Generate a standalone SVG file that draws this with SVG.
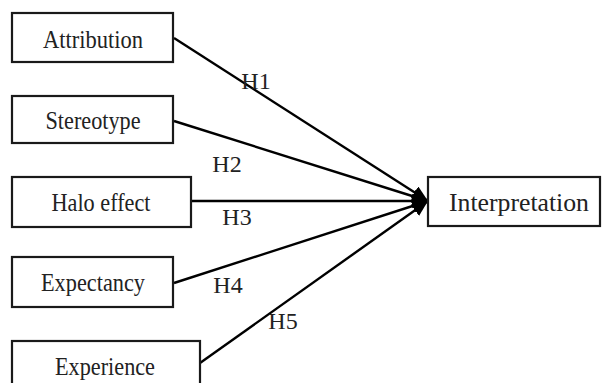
<svg xmlns="http://www.w3.org/2000/svg" width="606" height="383" viewBox="0 0 606 383">
<defs>
<style>
.box{fill:#fff;stroke:#1a1a1a;stroke-width:2.2}
.t{font-family:"Liberation Serif","Times New Roman",serif;font-size:25px;fill:#222;text-anchor:middle}
.lab{font-family:"Liberation Serif","Times New Roman",serif;font-size:24px;fill:#222;text-anchor:middle}
.ln{stroke:#000;stroke-width:2.4;fill:none;marker-end:url(#ah)}
</style>
<marker id="ah" markerUnits="userSpaceOnUse" viewBox="0 0 16 14" refX="16" refY="7" markerWidth="16" markerHeight="14" orient="auto">
<path d="M0,0 L16,7 L0,14 z" fill="#000"/>
</marker>
</defs>
<rect width="606" height="383" fill="#fff"/>
<g id="connectors">
<line class="ln" x1="174" y1="38" x2="428" y2="201"/>
<line class="ln" x1="174" y1="121" x2="428" y2="201"/>
<line class="ln" x1="191" y1="201" x2="428" y2="201"/>
<line class="ln" x1="174" y1="283" x2="428" y2="201"/>
<line class="ln" x1="200" y1="363" x2="428" y2="201"/>
<text class="lab" x="256" y="89">H1</text>
<text class="lab" x="227" y="172">H2</text>
<text class="lab" x="237" y="225">H3</text>
<text class="lab" x="228" y="293">H4</text>
<text class="lab" x="283" y="329">H5</text>
</g>
<g id="attribution">
<rect class="box" x="12" y="13" width="161" height="49"/>
<text class="t" x="93" y="48" textLength="100" lengthAdjust="spacingAndGlyphs">Attribution</text>
</g>
<g id="stereotype">
<rect class="box" x="12" y="96" width="161" height="47"/>
<text class="t" x="93" y="129" textLength="95" lengthAdjust="spacingAndGlyphs">Stereotype</text>
</g>
<g id="halo">
<rect class="box" x="12" y="177" width="179" height="50"/>
<text class="t" x="101" y="211" textLength="99" lengthAdjust="spacingAndGlyphs">Halo effect</text>
</g>
<g id="expectancy">
<rect class="box" x="12" y="257" width="161" height="50"/>
<text class="t" x="93" y="291" textLength="104" lengthAdjust="spacingAndGlyphs">Expectancy</text>
</g>
<g id="experience">
<rect class="box" x="12" y="341" width="188" height="50"/>
<text class="t" x="105" y="375" textLength="100" lengthAdjust="spacingAndGlyphs">Experience</text>
</g>
<g id="interpretation">
<rect class="box" x="428" y="177" width="172" height="49"/>
<text class="t" x="519" y="211" textLength="140" lengthAdjust="spacingAndGlyphs">Interpretation</text>
</g>
</svg>
